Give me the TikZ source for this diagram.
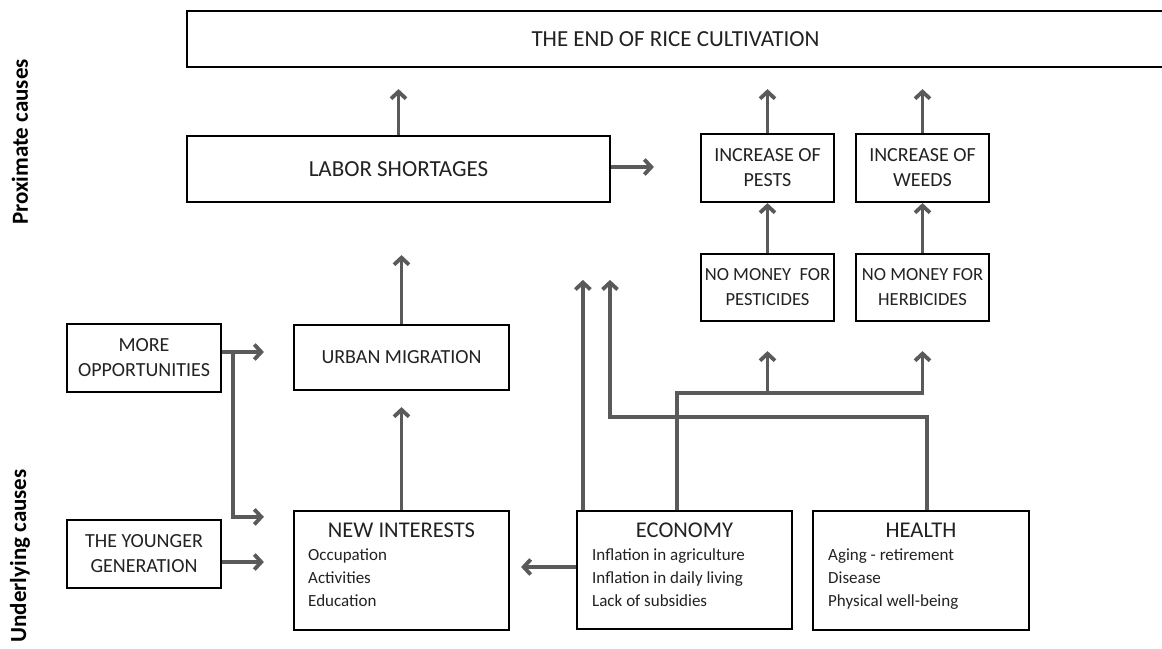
\documentclass[tikz,border=0pt]{standalone}
\usepackage{fontspec}
\setmainfont{Carlito}
\usetikzlibrary{arrows.meta,calc}
\definecolor{arrgray}{HTML}{5A5A5A}
\definecolor{txt}{HTML}{222222}
\begin{document}
\begin{tikzpicture}[x=1pt,y=-1pt,
  box/.style={draw=black,line width=2.2pt,inner sep=0pt,align=center,text=txt,font=\fontsize{20}{25}\selectfont},
  smallbox/.style={box,font=\fontsize{18.5}{25}\selectfont},
  big/.style={box,font=\fontsize{23}{27}\selectfont},
  head/.style={inner sep=0pt,anchor=base,text=txt,font=\fontsize{22.5}{26}\selectfont},
  item/.style={inner sep=0pt,anchor=base west,text=txt,font=\fontsize{17}{20}\selectfont},
  conn/.style={draw=arrgray,line width=3.8pt},
  arr/.style={conn,-{Straight Barb[length=7pt,width=15pt]}},
  sidelabel/.style={rotate=90,inner sep=0pt,text=black,font=\bfseries\fontsize{23}{27}\selectfont}]
\fill[white] (0,0) rectangle (1162,648);
\useasboundingbox (0,0) rectangle (1162,648);

% side labels
\node[sidelabel] (prox) at (20,142) {Proximate causes};
\node[sidelabel] (under) at (20,556) {Underlying causes};

% boxes
\node[big,minimum width=977pt,minimum height=56pt] (endbox) at (675.5,39) {THE END OF RICE CULTIVATION};
\node[big,minimum width=423pt,minimum height=66pt] (labor) at (398.5,169) {LABOR SHORTAGES};
\node[box,minimum width=133pt,minimum height=68pt] (pests) at (767.5,168) {INCREASE OF\\PESTS};
\node[box,minimum width=133pt,minimum height=68pt] (weeds) at (922.5,168) {INCREASE OF\\WEEDS};
\node[smallbox,minimum width=133pt,minimum height=67pt] (nmp) at (767.5,287.5) {NO MONEY\hspace{0.45em}FOR\\PESTICIDES};
\node[smallbox,minimum width=133pt,minimum height=67pt] (nmh) at (922.5,287.5) {NO MONEY FOR\\HERBICIDES};
\node[box,minimum width=215pt,minimum height=65pt] (urban) at (401.5,357.5) {URBAN MIGRATION};
\node[box,minimum width=154pt,minimum height=68pt] (more) at (144,358) {MORE\\OPPORTUNITIES};
\node[box,minimum width=154pt,minimum height=68pt] (younger) at (144,554) {THE YOUNGER\\GENERATION};
\node[box,minimum width=215pt,minimum height=119pt] (newint) at (401.5,570.5) {};
\node[box,minimum width=215pt,minimum height=118pt] (econ) at (684.5,570) {};
\node[box,minimum width=216pt,minimum height=119pt] (health) at (921,570.5) {};

% box contents
\node[head] (nih) at (401.5,537) {NEW INTERESTS};
\node[item] (ni1) at (308,560) {Occupation};
\node[item] (ni2) at (308,583) {Activities};
\node[item] (ni3) at (308,606) {Education};
\node[head] (ech) at (684.5,537) {ECONOMY};
\node[item] (ec1) at (592,560) {Inflation in agriculture};
\node[item] (ec2) at (592,583) {Inflation in daily living};
\node[item] (ec3) at (592,606) {Lack of subsidies};
\node[head] (heh) at (921,537) {HEALTH};
\node[item] (he1) at (828,560) {Aging - retirement};
\node[item] (he2) at (828,583) {Disease};
\node[item] (he3) at (828,606) {Physical well-being};

% connectors
\draw[arr,shorten >=21pt] (labor.north) -- (labor.north |- endbox.south);
\draw[arr,shorten >=21pt] (pests.north) -- (pests.north |- endbox.south);
\draw[arr,shorten >=21pt] (weeds.north) -- (weeds.north |- endbox.south);
\draw[arr] (nmp.north) -- (pests.south);
\draw[arr] (nmh.north) -- (weeds.south);
\draw[arr,shorten >=46pt] ([yshift=2pt]labor.east) -- ([yshift=2pt]labor.east -| pests.west);
\draw[arr,shorten >=52pt] (urban.north) -- (urban.north |- labor.south);
\draw[arr,shorten >=16pt] (newint.north) -- (urban.south);
\draw[arr,shorten >=11pt] ([yshift=3pt]econ.west) -- ([yshift=3pt]econ.west -| newint.east);

\coordinate (mo) at ([yshift=6pt]more.east);
\coordinate (br) at ([xshift=11pt]mo);
\draw[arr,shorten >=29pt] (mo) -- (mo -| urban.west);
\draw[arr,shorten >=29pt] (br) |- ([yshift=-7pt]newint.north west);
\draw[arr,shorten >=29pt] ([yshift=-8pt]younger.east) -- ([yshift=-8pt]younger.east -| newint.west);

\draw[arr] ([xshift=7pt]econ.north west) -- ++(0,-230);
\coordinate (j) at (0,393);
\draw[arr] ([xshift=101pt]econ.north west) |- (nmh.south |- j) -- ([yshift=-29pt]nmh.south);
\draw[arr] (nmp.south |- j) -- ([yshift=-29pt]nmp.south);
\draw[arr] ([xshift=6pt]health.north) -- ++(0,-93) -- ++(-317,0) -- ++(0,-137);
\end{tikzpicture}
\end{document}
